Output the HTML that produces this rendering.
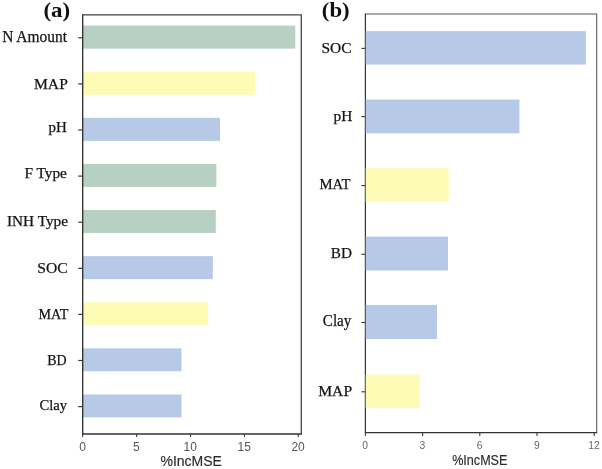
<!DOCTYPE html>
<html><head><meta charset="utf-8"><title>Figure</title>
<style>
html,body{margin:0;padding:0;background:#fff;}
body{width:602px;height:469px;overflow:hidden;}
svg{display:block;filter:blur(0.35px);}
.ser{font-family:"Liberation Serif","Times New Roman",serif;fill:#151515;stroke:#151515;stroke-width:0.25px;}
.bld{font-family:"Liberation Serif","Times New Roman",serif;font-weight:bold;fill:#111;}
.san{font-family:"Liberation Sans",Arial,sans-serif;}
</style></head><body>
<svg width="602" height="469" viewBox="0 0 602 469">
<rect x="0" y="0" width="602" height="469" fill="#ffffff"/>
<rect x="82.7" y="25.65" width="212.6" height="23.0" fill="#b7d0c4"/>
<rect x="82.7" y="71.75" width="172.8" height="23.0" fill="#fdfbb5"/>
<rect x="82.7" y="117.85" width="137.3" height="23.0" fill="#b6c9e6"/>
<rect x="82.7" y="163.95" width="133.7" height="23.0" fill="#b7d0c4"/>
<rect x="82.7" y="210.05" width="133.1" height="22.9" fill="#b7d0c4"/>
<rect x="82.7" y="256.15" width="130.1" height="23.0" fill="#b6c9e6"/>
<rect x="82.7" y="302.25" width="125.1" height="22.9" fill="#fdfbb5"/>
<rect x="82.7" y="348.35" width="98.8" height="22.9" fill="#b6c9e6"/>
<rect x="82.7" y="394.45" width="98.8" height="22.9" fill="#b6c9e6"/>
<path d="M82.7 14.8H301.3V434.0" fill="none" stroke="#444" stroke-width="1.3"/>
<path d="M82.7 14.15V434.0H301.95" fill="none" stroke="#333" stroke-width="1.35"/>
<line x1="78.2" y1="37.8" x2="82.7" y2="37.8" stroke="#3a3a3a" stroke-width="1.2"/>
<text class="ser" x="2.20" y="42.25" font-size="15.7" textLength="64.78" lengthAdjust="spacingAndGlyphs">N Amount</text>
<line x1="78.2" y1="83.9" x2="82.7" y2="83.9" stroke="#3a3a3a" stroke-width="1.2"/>
<text class="ser" x="34.00" y="88.50" font-size="15.5" textLength="33.82" lengthAdjust="spacingAndGlyphs">MAP</text>
<line x1="78.2" y1="130.0" x2="82.7" y2="130.0" stroke="#3a3a3a" stroke-width="1.2"/>
<text class="ser" x="48.50" y="132.25" font-size="14.6" textLength="18.23" lengthAdjust="spacingAndGlyphs">pH</text>
<line x1="78.2" y1="176.1" x2="82.7" y2="176.1" stroke="#3a3a3a" stroke-width="1.2"/>
<text class="ser" x="24.40" y="178.40" font-size="14.2" textLength="42.52" lengthAdjust="spacingAndGlyphs">F Type</text>
<line x1="78.2" y1="222.2" x2="82.7" y2="222.2" stroke="#3a3a3a" stroke-width="1.2"/>
<text class="ser" x="7.00" y="226.40" font-size="14.4" textLength="61.01" lengthAdjust="spacingAndGlyphs">INH Type</text>
<line x1="78.2" y1="268.3" x2="82.7" y2="268.3" stroke="#3a3a3a" stroke-width="1.2"/>
<text class="ser" x="37.28" y="273.05" font-size="15.4" textLength="30.49" lengthAdjust="spacingAndGlyphs">SOC</text>
<line x1="78.2" y1="314.4" x2="82.7" y2="314.4" stroke="#3a3a3a" stroke-width="1.2"/>
<text class="ser" x="38.50" y="318.50" font-size="14.5" textLength="29.86" lengthAdjust="spacingAndGlyphs">MAT</text>
<line x1="78.2" y1="360.5" x2="82.7" y2="360.5" stroke="#3a3a3a" stroke-width="1.2"/>
<text class="ser" x="47.20" y="365.10" font-size="14.8" textLength="19.50" lengthAdjust="spacingAndGlyphs">BD</text>
<line x1="78.2" y1="406.6" x2="82.7" y2="406.6" stroke="#3a3a3a" stroke-width="1.2"/>
<text class="ser" x="39.50" y="409.60" font-size="15.2" textLength="27.61" lengthAdjust="spacingAndGlyphs">Clay</text>
<line x1="82.7" y1="434.0" x2="82.7" y2="437.0" stroke="#3a3a3a" stroke-width="1.1"/>
<text class="san" x="82.5" y="450.9" font-size="12" fill="#555" text-anchor="middle">0</text>
<line x1="136.6" y1="434.0" x2="136.6" y2="437.0" stroke="#3a3a3a" stroke-width="1.1"/>
<text class="san" x="136.4" y="450.9" font-size="12" fill="#555" text-anchor="middle">5</text>
<line x1="190.5" y1="434.0" x2="190.5" y2="437.0" stroke="#3a3a3a" stroke-width="1.1"/>
<text class="san" x="190.3" y="450.9" font-size="12" fill="#555" text-anchor="middle">10</text>
<line x1="244.4" y1="434.0" x2="244.4" y2="437.0" stroke="#3a3a3a" stroke-width="1.1"/>
<text class="san" x="244.2" y="450.9" font-size="12" fill="#555" text-anchor="middle">15</text>
<line x1="298.3" y1="434.0" x2="298.3" y2="437.0" stroke="#3a3a3a" stroke-width="1.1"/>
<text class="san" x="298.1" y="450.9" font-size="12" fill="#555" text-anchor="middle">20</text>
<text class="san" x="191.2" y="466.3" font-size="14" fill="#2b2b2b" stroke="#2b2b2b" stroke-width="0.15" text-anchor="middle">%IncMSE</text>
<text class="bld" x="43.4" y="17" font-size="21.5" textLength="26.8" lengthAdjust="spacingAndGlyphs">(a)</text>
<rect x="365.4" y="31.1" width="220.5" height="33.5" fill="#b6c9e6"/>
<rect x="365.4" y="99.5" width="154.0" height="33.8" fill="#b6c9e6"/>
<rect x="365.4" y="168.2" width="83.3" height="33.6" fill="#fdfbb5"/>
<rect x="365.4" y="236.6" width="82.6" height="33.9" fill="#b6c9e6"/>
<rect x="365.4" y="304.9" width="71.6" height="34.1" fill="#b6c9e6"/>
<rect x="365.4" y="374.6" width="54.1" height="33.2" fill="#fdfbb5"/>
<path d="M365.4 14.0H596.7V432.6" fill="none" stroke="#555" stroke-width="1.05"/>
<path d="M365.4 13.5V432.6H597.2" fill="none" stroke="#333" stroke-width="1.2"/>
<rect x="364.79999999999995" y="31.1" width="1.2" height="33.5" fill="#b6c9e6" fill-opacity="0.3"/>
<line x1="361.4" y1="48.4" x2="365.4" y2="48.4" stroke="#3a3a3a" stroke-width="1.1"/>
<text class="ser" x="321.48" y="53.10" font-size="15.2" textLength="30.15" lengthAdjust="spacingAndGlyphs">SOC</text>
<rect x="364.79999999999995" y="99.5" width="1.2" height="33.8" fill="#b6c9e6" fill-opacity="0.3"/>
<line x1="361.4" y1="116.6" x2="365.4" y2="116.6" stroke="#3a3a3a" stroke-width="1.1"/>
<text class="ser" x="333.50" y="121.45" font-size="15.6" textLength="18.76" lengthAdjust="spacingAndGlyphs">pH</text>
<rect x="364.79999999999995" y="168.2" width="1.2" height="33.6" fill="#fdfbb5" fill-opacity="0.3"/>
<line x1="361.4" y1="185.6" x2="365.4" y2="185.6" stroke="#3a3a3a" stroke-width="1.1"/>
<text class="ser" x="319.50" y="189.35" font-size="15.2" textLength="31.00" lengthAdjust="spacingAndGlyphs">MAT</text>
<rect x="364.79999999999995" y="236.6" width="1.2" height="33.9" fill="#b6c9e6" fill-opacity="0.3"/>
<line x1="361.4" y1="254.3" x2="365.4" y2="254.3" stroke="#3a3a3a" stroke-width="1.1"/>
<text class="ser" x="330.80" y="258.20" font-size="15.2" textLength="21.17" lengthAdjust="spacingAndGlyphs">BD</text>
<rect x="364.79999999999995" y="304.9" width="1.2" height="34.1" fill="#b6c9e6" fill-opacity="0.3"/>
<line x1="361.4" y1="322.5" x2="365.4" y2="322.5" stroke="#3a3a3a" stroke-width="1.1"/>
<text class="ser" x="322.80" y="325.95" font-size="15.8" textLength="28.60" lengthAdjust="spacingAndGlyphs">Clay</text>
<rect x="364.79999999999995" y="374.6" width="1.2" height="33.2" fill="#fdfbb5" fill-opacity="0.3"/>
<line x1="361.4" y1="391.8" x2="365.4" y2="391.8" stroke="#3a3a3a" stroke-width="1.1"/>
<text class="ser" x="318.20" y="396.30" font-size="15.5" textLength="33.93" lengthAdjust="spacingAndGlyphs">MAP</text>
<line x1="365.4" y1="432.6" x2="365.4" y2="435.90000000000003" stroke="#3a3a3a" stroke-width="1.1"/>
<text class="san" x="365.2" y="448.9" font-size="11.5" fill="#666" text-anchor="middle" transform="translate(365.2,0) scale(0.9,1) translate(-365.2,0)">0</text>
<line x1="422.6" y1="432.6" x2="422.6" y2="435.90000000000003" stroke="#3a3a3a" stroke-width="1.1"/>
<text class="san" x="422.4" y="448.9" font-size="11.5" fill="#666" text-anchor="middle" transform="translate(422.4,0) scale(0.9,1) translate(-422.4,0)">3</text>
<line x1="479.8" y1="432.6" x2="479.8" y2="435.90000000000003" stroke="#3a3a3a" stroke-width="1.1"/>
<text class="san" x="479.6" y="448.9" font-size="11.5" fill="#666" text-anchor="middle" transform="translate(479.6,0) scale(0.9,1) translate(-479.6,0)">6</text>
<line x1="537.0" y1="432.6" x2="537.0" y2="435.90000000000003" stroke="#3a3a3a" stroke-width="1.1"/>
<text class="san" x="536.8" y="448.9" font-size="11.5" fill="#666" text-anchor="middle" transform="translate(536.8,0) scale(0.9,1) translate(-536.8,0)">9</text>
<line x1="594.2" y1="432.6" x2="594.2" y2="435.90000000000003" stroke="#3a3a3a" stroke-width="1.1"/>
<text class="san" x="594.0" y="448.9" font-size="11.5" fill="#666" text-anchor="middle" transform="translate(594.0,0) scale(0.9,1) translate(-594.0,0)">12</text>
<text class="san" x="479.8" y="465.2" font-size="14" fill="#2b2b2b" stroke="#2b2b2b" stroke-width="0.15" text-anchor="middle" transform="translate(479.8,0) scale(0.9,1) translate(-479.8,0)">%IncMSE</text>
<text class="bld" x="321.8" y="17" font-size="21.5" textLength="27.9" lengthAdjust="spacingAndGlyphs">(b)</text>
</svg></body></html>
